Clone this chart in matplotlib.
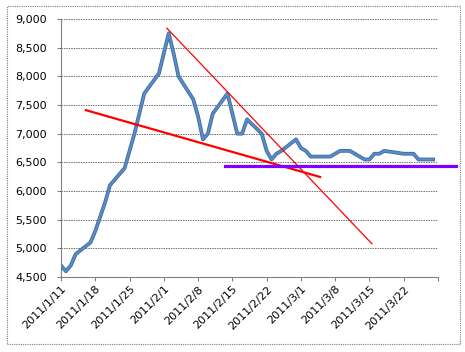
import datetime as dt
import matplotlib
matplotlib.use("Agg")
import matplotlib.pyplot as plt
from matplotlib.patches import Rectangle

# daily price (trading days only)
dates = ["2011-01-11", "2011-01-12", "2011-01-13", "2011-01-14", "2011-01-17",
         "2011-01-18", "2011-01-19", "2011-01-20", "2011-01-21", "2011-01-24",
         "2011-01-25", "2011-01-26", "2011-01-27", "2011-01-28", "2011-01-31",
         "2011-02-01", "2011-02-02", "2011-02-03", "2011-02-04", "2011-02-07",
         "2011-02-08", "2011-02-09", "2011-02-10", "2011-02-11", "2011-02-14",
         "2011-02-15", "2011-02-16", "2011-02-17", "2011-02-18", "2011-02-21",
         "2011-02-22", "2011-02-23", "2011-02-24", "2011-02-25", "2011-02-28",
         "2011-03-01", "2011-03-02", "2011-03-03", "2011-03-04", "2011-03-07",
         "2011-03-08", "2011-03-09", "2011-03-10", "2011-03-11", "2011-03-14",
         "2011-03-15", "2011-03-16", "2011-03-17", "2011-03-18", "2011-03-22",
         "2011-03-23", "2011-03-24", "2011-03-25", "2011-03-28"]
prices = [4700, 4600, 4700, 4900, 5100,
          5300, 5550, 5800, 6100, 6400,
          6700, 7000, 7350, 7700, 8050,
          8400, 8750, 8400, 8000, 7600,
          7300, 6900, 7000, 7350, 7700,
          7350, 7000, 7000, 7250, 7000,
          6700, 6550, 6650, 6700, 6900,
          6750, 6700, 6600, 6600, 6600,
          6650, 6700, 6700, 6700, 6550,
          6550, 6650, 6650, 6700, 6650,
          6650, 6650, 6550, 6550]

# hand-drawn trend lines (start, end)
upper_trend_x = ["2011-02-01 15:00", "2011-03-15 12:00"]
upper_trend_y = [8840, 5080]
lower_trend_x = ["2011-01-16 02:00", "2011-03-04 22:00"]
lower_trend_y = [7410, 6245]
support_x = ["2011-02-13 10:00", "2011-04-01 14:00"]
support_y = [6435, 6435]

tick_dates = ["2011-01-11", "2011-01-18", "2011-01-25", "2011-02-01",
              "2011-02-08", "2011-02-15", "2011-02-22", "2011-03-01",
              "2011-03-08", "2011-03-15", "2011-03-22", "2011-03-29"]
y_ticks = [4500, 5000, 5500, 6000, 6500, 7000, 7500, 8000, 8500, 9000]


def to_dt(s):
    return dt.datetime.fromisoformat(s)


fig = plt.figure(figsize=(4.65, 3.52), dpi=100)
ax = fig.add_axes([61 / 465, 1 - 277 / 352, 377 / 465, 258 / 352])

# outer chart border
fig.patches.append(Rectangle((7 / 465, 1 - 344 / 352), 453 / 465, 338 / 352,
                             transform=fig.transFigure, fill=False,
                             ec="#7f7f7f", lw=0.8, ls=(0, (1, 1))))

x = [to_dt(d) for d in dates]
ax.plot(x, prices, color="#3a6aa3", lw=2.7, solid_joinstyle="round", zorder=3)
ax.plot(x, prices, color="#5b8cc6", lw=1.5, solid_joinstyle="round", zorder=3)

ax.plot([to_dt(d) for d in upper_trend_x], upper_trend_y, color="#ff0000",
        lw=0.9, zorder=4, clip_on=False)
ax.plot([to_dt(d) for d in lower_trend_x], lower_trend_y, color="#ff0000",
        lw=1.6, zorder=4, clip_on=False)
ax.plot([to_dt(d) for d in support_x], support_y, color="#8000ff",
        lw=2.3, zorder=5, clip_on=False)

ax.set_xlim(to_dt(tick_dates[0]), to_dt(tick_dates[-1]))
ax.set_ylim(4500, 9000)

tks = [to_dt(d) for d in tick_dates]
ax.set_xticks(tks)
labels = [f"{t.year}/{t.month}/{t.day}" for t in tks]
labels[-1] = ""
ax.set_xticklabels(labels, rotation=45, ha="right", va="top",
                   rotation_mode="anchor", fontsize=8)
ax.set_yticks(y_ticks)
ax.set_yticklabels([f"{v:,}" for v in y_ticks], fontsize=8)

ax.grid(axis="y", color="#707070", lw=0.7, ls=(0, (1.5, 1)))
ax.set_axisbelow(True)
for side in ["top", "right"]:
    ax.spines[side].set_visible(False)
for side in ["left", "bottom"]:
    ax.spines[side].set_color("#808080")
    ax.spines[side].set_linewidth(0.8)
ax.tick_params(axis="both", color="#808080", length=3, width=0.8)
ax.tick_params(axis="y", pad=7)
ax.tick_params(axis="x", pad=2)

plt.savefig("out.png", dpi=100)
